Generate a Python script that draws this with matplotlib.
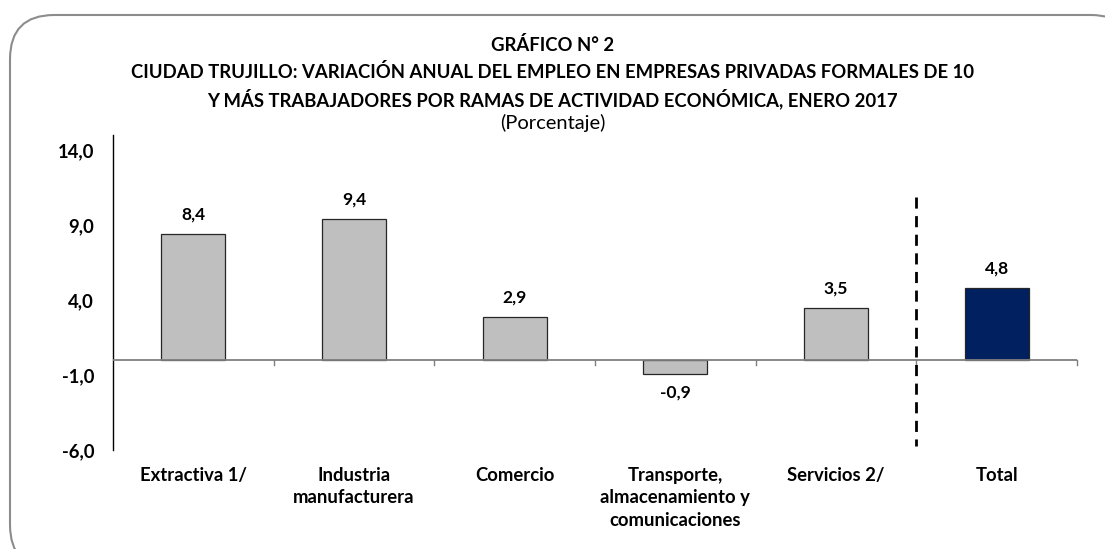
import matplotlib
matplotlib.use("Agg")
import matplotlib.pyplot as plt
from matplotlib.patches import FancyBboxPatch

categories = ["Extractiva 1/", "Industria\nmanufacturera", "Comercio",
              "Transporte,\nalmacenamiento y\ncomunicaciones", "Servicios 2/", "Total"]
values = [8.4, 9.4, 2.9, -0.9, 3.5, 4.8]
value_labels = ["8,4", "9,4", "2,9", "-0,9", "3,5", "4,8"]
yticks = [-6.0, -1.0, 4.0, 9.0, 14.0]
ytick_labels = ["-6,0", "-1,0", "4,0", "9,0", "14,0"]

plt.rcParams['font.family'] = ['Lato', 'DejaVu Sans']

W, H = 1105, 549
fig = plt.figure(figsize=(W / 100, H / 100), dpi=100)

# rounded frame
frame = FancyBboxPatch((10 / W, -20 / H), (W + 20) / W, (H - 15 + 20) / H,
                       boxstyle="round,pad=0,rounding_size=0.04",
                       transform=fig.transFigure, facecolor="white",
                       edgecolor="#8c8c8c", linewidth=1.5, mutation_aspect=W / H,
                       zorder=-10)
fig.patches.append(frame)

ax = fig.add_axes([113 / W, 1 - 450 / H, (1077 - 113) / W, (450 - 135) / H])
ax.set_facecolor("none")
ax.set_zorder(5)

x = list(range(len(categories)))
colors = ["#bfbfbf"] * (len(categories) - 1) + ["#002060"]
ax.bar(x, values, width=0.4, color=colors, edgecolor="#262626", linewidth=0.9, zorder=3)

ax.set_xlim(-0.5, len(categories) - 0.5)
ax.set_ylim(-6, 15)
ax.set_yticks(yticks)
ax.set_yticklabels(ytick_labels, fontsize=13.3, fontweight="bold")
ax.tick_params(axis="y", length=0, pad=13.5)

for s in ["top", "right", "bottom"]:
    ax.spines[s].set_visible(False)
ax.spines["left"].set_color("black")
ax.spines["left"].set_linewidth(1.0)

# zero line
ax.axhline(0, color="#7f7f7f", linewidth=1.3, zorder=4)
for b in [i + 0.5 for i in range(len(categories))]:
    ax.plot([b, b], [0, -0.35], color="#7f7f7f", linewidth=1.0, zorder=4, clip_on=False)

# category labels
ax.set_xticks(x)
ax.set_xticklabels(categories, fontsize=13.3, fontweight="bold", linespacing=1.4, va="top")
ax.tick_params(axis="x", length=0, pad=12)

# value labels
for xi, v, t in zip(x, values, value_labels):
    if v >= 0:
        ax.annotate(t, (xi, v), xytext=(0, 8), textcoords="offset points",
                    ha="center", va="bottom", fontsize=12.5, fontweight="bold")
    else:
        ax.annotate(t, (xi, v), xytext=(0, -8), textcoords="offset points",
                    ha="center", va="top", fontsize=12.5, fontweight="bold")

# dashed separator
ax.plot([4.5, 4.5], [10.9, -5.7], color="black", linewidth=2.0,
        linestyle=(0, (4, 2.7)), zorder=5)

# titles
fig.text(0.5, 1 - 45 / H, "GRÁFICO N° 2", ha="center", va="center",
         fontsize=13.3, fontweight="bold")
fig.text(0.5, 1 - 72 / H,
         "CIUDAD TRUJILLO: VARIACIÓN ANUAL DEL EMPLEO EN EMPRESAS PRIVADAS FORMALES DE 10",
         ha="center", va="center", fontsize=13.3, fontweight="bold")
fig.text(0.5, 1 - 99 / H,
         "Y MÁS TRABAJADORES POR RAMAS DE ACTIVIDAD ECONÓMICA, ENERO 2017",
         ha="center", va="center", fontsize=13.3, fontweight="bold")
fig.text(0.5, 1 - 123 / H, "(Porcentaje)", ha="center", va="center", fontsize=14.5)

fig.savefig("out.png", dpi=100)
